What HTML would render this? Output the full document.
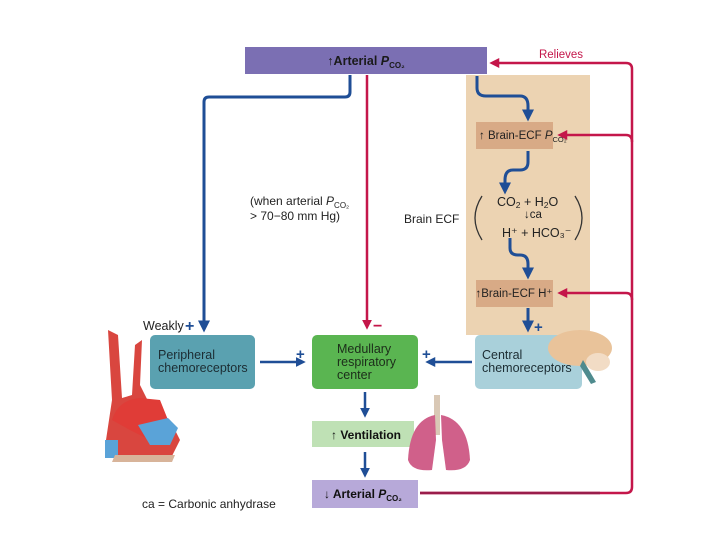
<!DOCTYPE html>
<html><head><meta charset="utf-8"><style>
html,body{margin:0;padding:0;background:#fff;}
svg{display:block;font-family:"Liberation Sans",sans-serif;}
</style></head><body>
<svg width="720" height="540" viewBox="0 0 720 540" xmlns="http://www.w3.org/2000/svg">
<defs>
<marker id="ab" markerWidth="4" markerHeight="4" refX="2.5" refY="2" orient="auto" markerUnits="strokeWidth"><path d="M0,0 L4,2 L0,4 z" fill="#1f4e96"/></marker>
<marker id="ar" markerWidth="4" markerHeight="4" refX="2.5" refY="2" orient="auto" markerUnits="strokeWidth"><path d="M0,0 L4,2 L0,4 z" fill="#c4164a"/></marker>
</defs>
<rect x="466" y="75" width="124" height="260" fill="#ecd3b2"/>
<rect x="245" y="47" width="242" height="27" fill="#7b6fb3"/>
<text x="366" y="65" font-size="12.5" font-weight="bold" text-anchor="middle" fill="#1a1a1a">↑Arterial <tspan font-style="italic">P</tspan><tspan font-size="8" dy="3">CO₂</tspan></text>
<text x="561" y="58" font-size="11.5" fill="#c4164a" text-anchor="middle">Relieves</text>
<rect x="476" y="122" width="77" height="27" fill="#d8aa86"/>
<text x="479" y="139" font-size="11.5" fill="#222">↑ Brain-ECF <tspan font-style="italic">P</tspan><tspan font-size="7.5" dy="3">CO₂</tspan></text>
<rect x="476" y="280" width="77" height="27" fill="#d8aa86"/>
<text x="514" y="297" font-size="11.5" fill="#222" text-anchor="middle">↑Brain-ECF H⁺</text>
<text x="404" y="223" font-size="12" fill="#222">Brain ECF</text>
<path d="M482,196 Q468,218 482,240" stroke="#333" stroke-width="1.3" fill="none"/>
<path d="M575,196 Q589,218 575,240" stroke="#333" stroke-width="1.3" fill="none"/>
<text x="497" y="206" font-size="12.5" fill="#222">CO<tspan font-size="8.5" dy="2">2</tspan><tspan dy="-2"> +  H</tspan><tspan font-size="8.5" dy="2">2</tspan><tspan dy="-2">O</tspan></text>
<text x="524" y="218" font-size="11.5" fill="#222">↓ca</text>
<text x="502" y="237" font-size="12.5" fill="#222">H⁺ + HCO₃⁻</text>
<text x="250" y="205" font-size="12" fill="#222">(when arterial <tspan font-style="italic">P</tspan><tspan font-size="8" dy="3">CO₂</tspan></text>
<text x="250" y="220" font-size="12" fill="#222">&gt; 70−80 mm Hg)</text>
<path d="M350,75 V92 Q350,97 345,97 H209 Q204,97 204,102 V328" stroke="#1f4e96" stroke-width="3" fill="none" marker-end="url(#ab)"/>
<path d="M477,76 V88 Q477,96 486,96 H520 Q528,96 528,106 V117" stroke="#1f4e96" stroke-width="3" fill="none" marker-end="url(#ab)"/>
<path d="M528,151 V162 Q528,170 520,170 H513 Q505,170 505,180 V190" stroke="#1f4e96" stroke-width="3" fill="none" marker-end="url(#ab)"/>
<path d="M510,238 V248 Q510,255 518,255 H520 Q528,255 528,264 V275" stroke="#1f4e96" stroke-width="3" fill="none" marker-end="url(#ab)"/>
<path d="M528,308 V328" stroke="#1f4e96" stroke-width="3" fill="none" marker-end="url(#ab)"/>
<path d="M260,362 H302" stroke="#1f4e96" stroke-width="2.5" fill="none" marker-end="url(#ab)"/>
<path d="M472,362 H429" stroke="#1f4e96" stroke-width="2.5" fill="none" marker-end="url(#ab)"/>
<path d="M365,392 V414" stroke="#1f4e96" stroke-width="2.5" fill="none" marker-end="url(#ab)"/>
<path d="M365,452 V474" stroke="#1f4e96" stroke-width="2.5" fill="none" marker-end="url(#ab)"/>
<text x="185" y="331" font-size="16" font-weight="bold" fill="#1f4e96">+</text>
<text x="143" y="330" font-size="12.5" fill="#222">Weakly</text>
<text x="296" y="359" font-size="15" font-weight="bold" fill="#1f4e96">+</text>
<text x="422" y="359" font-size="15" font-weight="bold" fill="#1f4e96">+</text>
<text x="534" y="332" font-size="15" font-weight="bold" fill="#1f4e96">+</text>
<text x="373" y="331" font-size="16" font-weight="bold" fill="#c4164a">−</text>
<path d="M367,75 V326" stroke="#c4164a" stroke-width="2.5" fill="none" marker-end="url(#ar)"/>
<path d="M420,493 H626 Q632,493 632,487 V69 Q632,63 626,63 H493" stroke="#c4164a" stroke-width="2.5" fill="none" marker-end="url(#ar)"/>
<path d="M632,142 Q632,135 626,135 H561" stroke="#c4164a" stroke-width="2.5" fill="none" marker-end="url(#ar)"/>
<path d="M632,300 Q632,293 626,293 H561" stroke="#c4164a" stroke-width="2.5" fill="none" marker-end="url(#ar)"/>
<path d="M420,493 H600" stroke="#9a1d4b" stroke-width="2.5"/>
<rect x="150" y="335" width="105" height="54" rx="5" fill="#5aa1b0"/>
<text x="158" y="359" font-size="12.5" fill="#1c2d33">Peripheral</text>
<text x="158" y="372" font-size="12.5" fill="#1c2d33">chemoreceptors</text>
<rect x="312" y="335" width="106" height="54" rx="5" fill="#5ab551"/>
<text x="337" y="353" font-size="12.5" fill="#1c2d1a">Medullary</text>
<text x="337" y="366" font-size="12.5" fill="#1c2d1a">respiratory</text>
<text x="337" y="379" font-size="12.5" fill="#1c2d1a">center</text>
<rect x="475" y="335" width="107" height="54" rx="5" fill="#a9d0da"/>
<text x="482" y="359" font-size="12.5" fill="#1c2d33">Central</text>
<text x="482" y="372" font-size="12.5" fill="#1c2d33">chemoreceptors</text>
<rect x="312" y="421" width="102" height="26" fill="#bfe1b5"/>
<text x="331" y="439" font-size="12" font-weight="bold" fill="#111">↑ Ventilation</text>
<rect x="312" y="480" width="106" height="28" fill="#b7a9d9"/>
<text x="324" y="498" font-size="12" font-weight="bold" fill="#111">↓ Arterial <tspan font-style="italic">P</tspan><tspan font-size="8" dy="3">CO₂</tspan></text>
<text x="142" y="508" font-size="12" fill="#222">ca = Carbonic anhydrase</text>
<path d="M108,330 L112,400 L106,440 L112,458 L170,460 L180,440 L170,420 L150,405 L140,385 L142,340 L135,345 L132,395 L122,398 L118,335 Z" fill="#d9463f"/>
<path d="M112,420 Q118,400 140,398 L160,400 L168,420 L150,440 L130,430 Z" fill="#e03c37"/>
<path d="M138,425 L168,418 L178,428 L170,445 L150,445 Z" fill="#5aa3d8"/>
<path d="M105,440 L118,440 L118,458 L105,458 Z" fill="#5aa3d8"/>
<path d="M115,455 L175,455 L172,462 L112,462 Z" fill="#d8b49a"/>
<ellipse cx="580" cy="348" rx="32" ry="18" fill="#e9c39a"/>
<ellipse cx="598" cy="362" rx="12" ry="9" fill="#f2dcc5"/>
<path d="M583,360 L596,382 L591,384 L580,366 Z" fill="#4f8b8e"/>
<rect x="434" y="395" width="6" height="40" fill="#d9c8b5"/>
<path d="M435,415 Q410,420 408,460 Q412,472 432,470 L436,440 Z" fill="#d0608a"/>
<path d="M441,415 Q468,420 470,460 Q466,472 446,470 L442,440 Z" fill="#d0608a"/>
</svg>
</body></html>
